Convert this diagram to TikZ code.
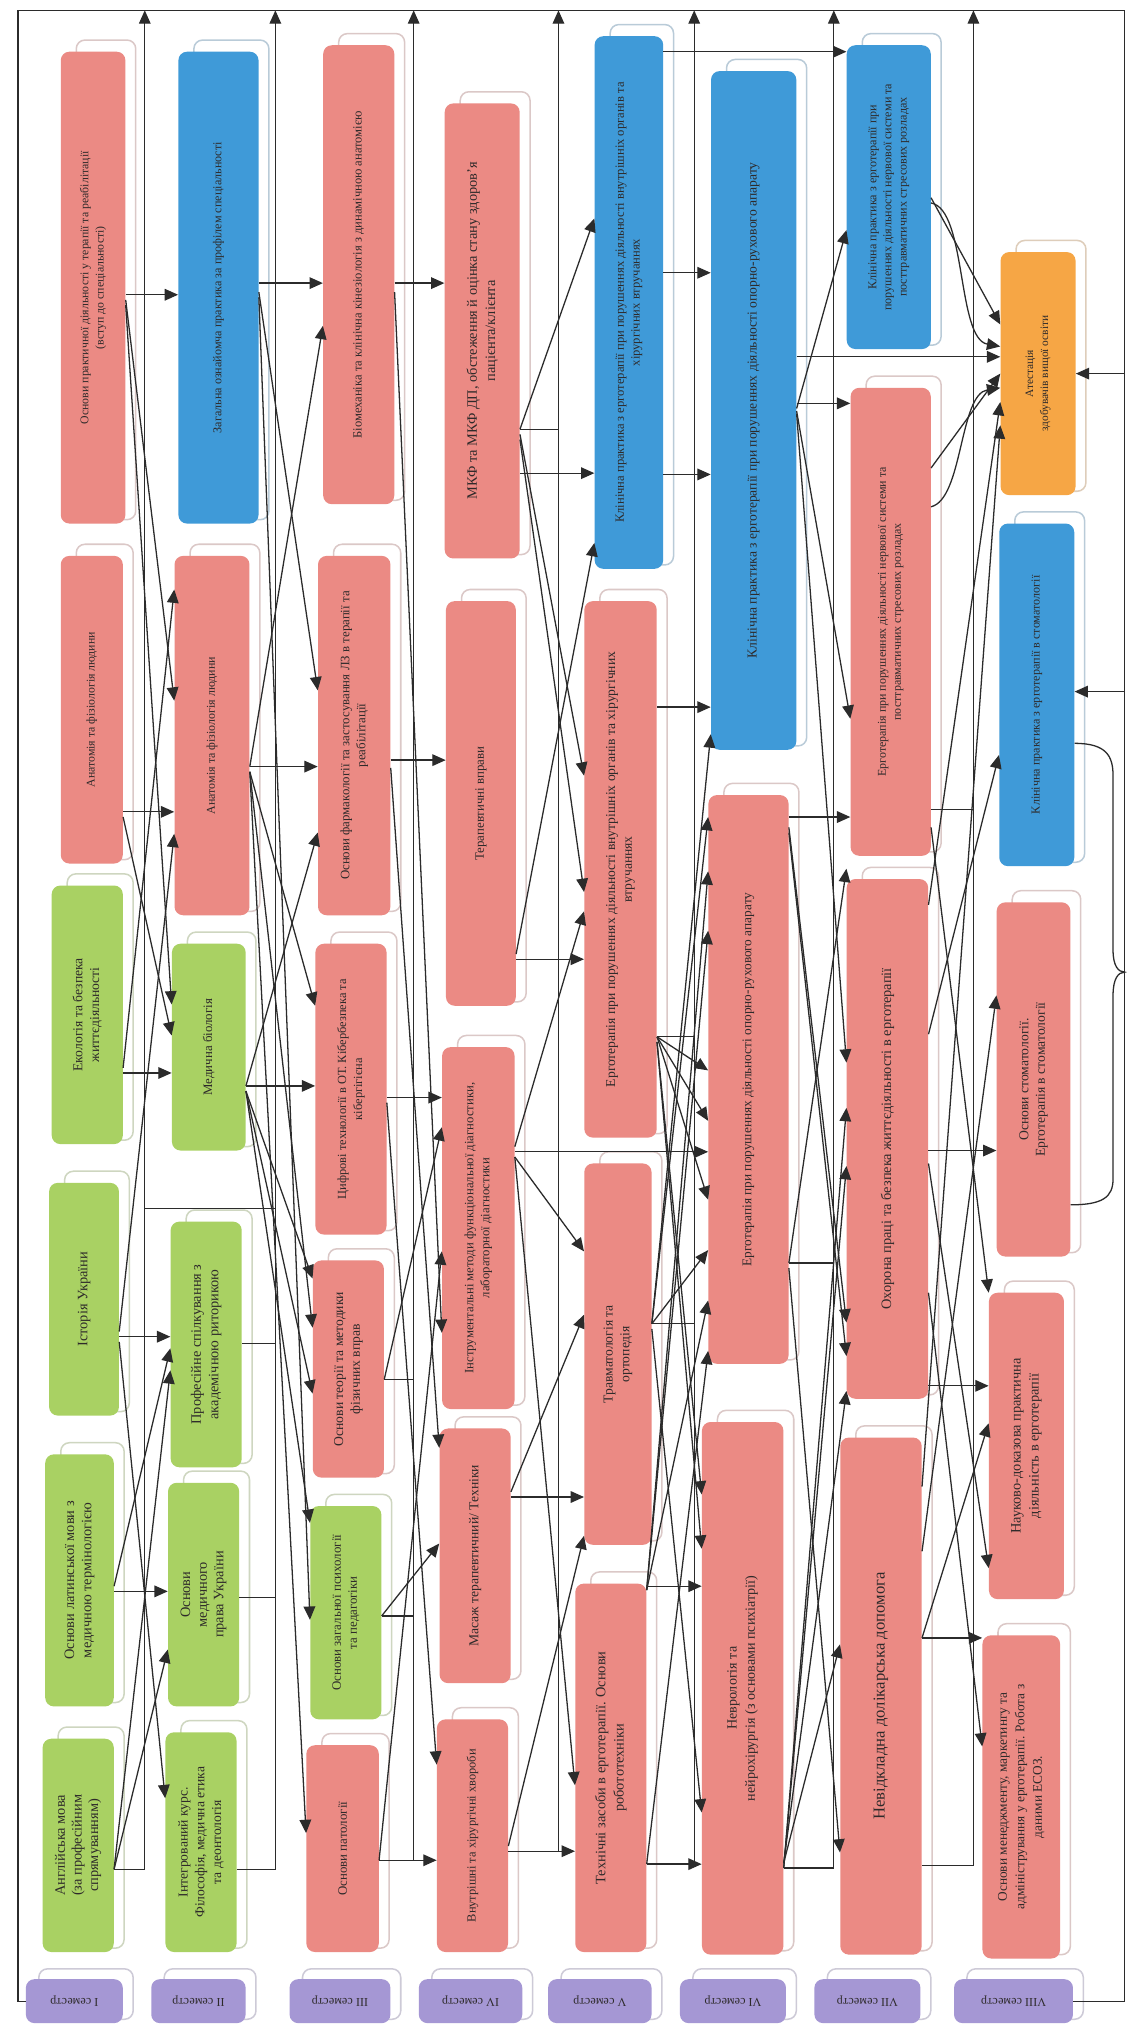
\documentclass[tikz,border=0pt]{standalone}
\usepackage{fontspec}
\setmainfont{Liberation Serif}
\usetikzlibrary{arrows.meta}
\pgfdeclarelayer{bg}
\pgfsetlayers{bg,main}
\definecolor{cred}{HTML}{EB8A84}
\definecolor{cblue}{HTML}{3F9AD8}
\definecolor{cgreen}{HTML}{A9D163}
\definecolor{corange}{HTML}{F6A645}
\definecolor{cpurple}{HTML}{A597D4}
\definecolor{cline}{HTML}{2B2B2B}
\definecolor{ctext}{HTML}{2E2A2A}
\tikzset{
 boxs/.style={rounded corners=2mm, inner sep=0pt, draw=none},
 frm/.style={rounded corners=2mm, fill=white, draw=#1!45!gray!45, line width=1pt},
 lbl/.style={rotate=90, align=center, text=ctext, inner sep=0pt},
 semlbl/.style={rotate=180, align=center, text=ctext, inner sep=0pt},
 ln/.style={draw=cline, line width=0.85pt},
 arr/.style={ln, -{Triangle[length=3.1mm,width=2.7mm]}},
}
\newcommand\fs[2]{\fontsize{#1}{#2}\selectfont}
\newcommand\bx[8]{%
 \path[frm=#6] ({#2+12},{#4-9}) rectangle ({#3+8},{#5-3});
 \node[boxs, fill=#6, minimum width={(#3-#2)*0.3mm}, minimum height={(#5-#4)*0.3mm}] (#1) at ({(#2+#3)/2},{(#4+#5)/2}) {};
 \node[lbl, font=#7] (#1l) at (#1.center) {#8};
}
\newcommand\sm[4]{%
 \path[frm=cpurple] ({#2+10},1523) rectangle ({#3+8},1562);
 \node[boxs, fill=cpurple, minimum width={(#3-#2)*0.3mm}, minimum height={34*0.3mm}] (#1) at ({(#2+#3)/2},1548) {};
 \node[semlbl, font=\fs{8}{10}] (#1l) at (#1.center) {#4};
}
\newcommand\cn[4]{\draw[arr] (#1.east |- 0,#2) -- (#3.west |- 0,#4);}
\begin{document}
\begin{tikzpicture}[x=0.3mm,y=-0.3mm]
\fill[white] (0,0) rectangle (872,1568);
\useasboundingbox (0,0) rectangle (872,1568);

% ---------- column I
\bx{I1}{47}{97}{40}{405}{cred}{\fs{7.8}{10}}{Основи практичної діяльності у терапії та реабілітації\\(вступ до спеціальності)}
\bx{I2}{47}{95}{430}{668}{cred}{\fs{7.8}{10}}{Анатомія та фізіологія людини}
\bx{I3}{40}{95}{685}{885}{cgreen}{\fs{9}{11}}{Екологія та безпека\\життєдіяльності}
\bx{I4}{38}{92}{915}{1095}{cgreen}{\fs{9.5}{11.5}}{Історія України}
\bx{I5}{35}{88}{1125}{1320}{cgreen}{\fs{9.5}{11.5}}{Основи латинської мови з\\медичною термінологією}
\bx{I6}{33}{88}{1345}{1510}{cgreen}{\fs{9.5}{11}}{Англійська мова\\(за професійним\\спрямуванням)}
% ---------- column II
\bx{II1}{138}{200}{40}{405}{cblue}{\fs{8}{10}}{Загальна ознайомча практика за профілем спеціальності}
\bx{II2}{135}{193}{430}{708}{cred}{\fs{7.9}{10}}{Анатомія та фізіологія людини}
\bx{II3}{133}{190}{730}{890}{cgreen}{\fs{8.5}{10.5}}{Медична біологія}
\bx{II4}{132}{187}{945}{1135}{cgreen}{\fs{9.5}{11.5}}{Професійне спілкування з\\академічною риторикою}
\bx{II5}{130}{185}{1147}{1320}{cgreen}{\fs{9.5}{11}}{Основи\\медичного\\права України}
\bx{II6}{128}{183}{1340}{1510}{cgreen}{\fs{9}{11}}{Інтегрований курс.\\Філософія, медична етика\\та деонтологія}
% ---------- column III
\bx{III1}{250}{305}{35}{390}{cred}{\fs{8.3}{10.5}}{Біомеханіка та клінічна кінезіологія з динамічною анатомією}
\bx{III2}{246}{302}{430}{708}{cred}{\fs{8.5}{10.5}}{Основи фармакології та застосування ЛЗ в терапії та\\реабілітації}
\bx{III3}{244}{299}{730}{955}{cred}{\fs{8.2}{10.5}}{Цифрові технології в ОТ. Кібербезпека та\\кібергігієна}
\bx{III4}{242}{297}{975}{1143}{cred}{\fs{9}{11}}{Основи теорії та методики\\фізичних вправ}
\bx{III5}{240}{295}{1165}{1330}{cgreen}{\fs{8.5}{10.5}}{Основи загальної психології\\та педагогіки}
\bx{III6}{237}{293}{1350}{1510}{cred}{\fs{8.5}{10.5}}{Основи патології}
% ---------- column IV
\bx{IV1}{344}{402}{80}{432}{cred}{\fs{9.5}{12}}{МКФ та МКФ ДП, обстеження й оцінка стану здоров’я\\пацієнта/клієнта}
\bx{IV2}{345}{399}{465}{778}{cred}{\fs{8.5}{10.5}}{Терапевтичні вправи}
\bx{IV3}{342}{398}{810}{1090}{cred}{\fs{8.4}{10.5}}{Інструментальні методи функціональної діагностики,\\лабораторної діагностики}
\bx{IV4}{340}{395}{1105}{1302}{cred}{\fs{9}{11}}{Масаж терапевтичний/ Техніки}
\bx{IV5}{338}{393}{1330}{1510}{cred}{\fs{8.2}{10.5}}{Внутрішні та хірургічні хвороби}
% ---------- column V
\bx{V1}{460}{513}{28}{440}{cblue}{\fs{8.3}{10.5}}{Клінічна практика з ерготерапії при порушеннях діяльності внутрішніх органів та\\хірургічних втручаннях}
\bx{V2}{452}{508}{465}{880}{cred}{\fs{9}{11}}{Ерготерапія при порушеннях діяльності внутрішніх органів та хірургічних\\втручаннях}
\bx{V3}{452}{504}{900}{1195}{cred}{\fs{9}{11}}{Травматологія та\\ортопедія}
\bx{V4}{445}{500}{1225}{1510}{cred}{\fs{9.5}{12}}{Технічні засоби в ерготерапії. Основи\\робототехніки}
% ---------- column VI
\bx{VI1}{550}{616}{55}{580}{cblue}{\fs{9}{11}}{Клінічна практика з ерготерапії при порушеннях діяльності опорно-рухового апарату}
\bx{VI2}{548}{610}{615}{1055}{cred}{\fs{8.8}{11}}{Ерготерапія при порушеннях діяльності опорно-рухового апарату}
\bx{VI3}{543}{606}{1100}{1512}{cred}{\fs{9.3}{12}}{Неврологія та\\нейрохірургія (з основами психіатрії)}
% ---------- column VII
\bx{VII1}{655}{720}{35}{270}{cblue}{\fs{8}{10}}{Клінічна практика з ерготерапії при\\порушеннях діяльності нервової системи та\\посттравматичних стресових розладах}
\bx{VII2}{658}{720}{300}{662}{cred}{\fs{7.9}{10}}{Ерготерапія при порушеннях діяльності нервової системи та\\посттравматичних стресових розладах}
\bx{VII3}{655}{718}{680}{1082}{cred}{\fs{9.5}{12}}{Охорона праці та безпека життєдіяльності в ерготерапії}
\bx{VII4}{650}{713}{1112}{1512}{cred}{\fs{11}{13}}{Невідкладна долікарська допомога}
% ---------- column VIII
\bx{VIII1}{774}{832}{195}{383}{corange}{\fs{7.5}{10}}{Атестація\\здобувачів вищої освіти}
\bx{VIII2}{773}{831}{405}{670}{cblue}{\fs{8}{10}}{Клінічна практика з ерготерапії в стоматології}
\bx{VIII3}{771}{828}{698}{972}{cred}{\fs{9}{11}}{Основи стоматології.\\Ерготерапія в стоматології}
\bx{VIII4}{765}{823}{1000}{1237}{cred}{\fs{9.5}{12}}{Науково-доказова практична\\діяльність в ерготерапії}
\bx{VIII5}{760}{820}{1265}{1515}{cred}{\fs{8.8}{11.5}}{Основи менеджменту, маркетингу та\\адміністрування у ерготерапії. Робота з\\даними ЕСОЗ.}

% ---------- semesters
\sm{S1}{20}{95}{I семестр}
\sm{S2}{117}{190}{II семестр}
\sm{S3}{224}{302}{III семестр}
\sm{S4}{324}{404}{IV семестр}
\sm{S5}{424}{504}{V семестр}
\sm{S6}{526}{608}{VI семестр}
\sm{S7}{630}{712}{VII семестр}
\sm{S8}{738}{830}{VIII семестр}
\begin{pgfonlayer}{bg}
\draw[ln] (S1.east) -- (S2.west);
\draw[ln] (S2.east) -- (S3.west);
\draw[ln] (S3.east) -- (S4.west);
\draw[ln] (S4.east) -- (S5.west);
\draw[ln] (S5.east) -- (S6.west);
\draw[ln] (S6.east) -- (S7.west);
\draw[ln] (S7.east) -- (S8.west);
\end{pgfonlayer}

% ---------- frame and buses
\coordinate (tl) at (14,8);
\coordinate (tr) at (870,8);
\coordinate (t1) at (112,8);
\coordinate (t2) at (213,8);
\coordinate (t3) at (320,8);
\coordinate (t4) at (432,8);
\coordinate (t5) at (537,8);
\coordinate (t6) at (645,8);
\coordinate (t7) at (753,8);
\draw[ln] (S1.west) -| (tl) -- (tr) |- (S8.east);
\draw[arr] (tr |- 0,289) -- (VIII1.east |- 0,289);
\draw[arr] (tr |- 0,535) -- (VIII2.east |- 0,535);
\draw[ln] (VIII2.east |- 0,575) .. controls (856,575) and (861,585) .. (861,600) -- (861,735) .. controls (861,747) and (865,752) .. (tr |- 0,752) .. controls (865,752) and (861,757) .. (861,770) -- (861,912) .. controls (861,926) and (853,932) .. (VIII3.east |- 0,932);

\draw[arr] (I6.east |- 0,1446) -| (t1);
\draw[arr] (II6.east |- 0,1446) -| (t2);
\draw[ln] (II4.east |- 0,1039) -- (t2 |- 0,1039);
\draw[ln] (II5.east |- 0,1236) -- (t2 |- 0,1236);
\draw[ln] (t1 |- 0,935) -- (t2 |- 0,935);
\draw[arr] (III6.east |- 0,1439) -| (t3);
\draw[ln] (III4.east |- 0,1067) -- (t3 |- 0,1067);
\draw[ln] (III5.east |- 0,1250) -- (t3 |- 0,1250);
\draw[arr] (IV5.east |- 0,1432) -| (t4);
\draw[ln] (IV1.east |- 0,332) -- (t4 |- 0,332);
\draw[arr] (V4.east |- 0,1442) -| (t5);
\draw[ln] (V2.east |- 0,802) -- (t5 |- 0,802);
\draw[ln] (V3.east |- 0,1024) -- (t5 |- 0,1024);
\draw[arr] (VI3.east |- 0,1445) -| (t6);
\draw[ln] (VI2.east |- 0,977) -- (t6 |- 0,977);
\draw[arr] (VII4.east |- 0,1443) -| (t7);
\draw[ln] (VII2.east |- 0,626) -- (t7 |- 0,626);

% ---------- I -> II
\cn{I1}{228}{II1}{228}
\cn{I1}{232}{II2}{542}
\cn{I1}{236}{II3}{777}
\cn{I2}{628}{II2}{628}
\cn{I2}{632}{II3}{801}
\cn{I3}{830}{II3}{830}
\cn{I3}{826}{II2}{456}
\cn{I4}{1030}{II2}{645}
\cn{I4}{1034}{II4}{1034}
\cn{I4}{1038}{II6}{1391}
\cn{I5}{1231}{II5}{1231}
\cn{I5}{1227}{II4}{1043}
\cn{I6}{1446}{II4}{1060}
\cn{I6}{1446}{II5}{1276}
% ---------- II -> III
\cn{II1}{219}{III1}{219}
\cn{II1}{226}{III2}{534}
\cn{II1}{230}{III5}{1253}
\cn{II2}{593}{III1}{252}
\cn{II2}{593}{III2}{593}
\cn{II2}{597}{III3}{778}
\cn{II2}{597}{III4}{1027}
\cn{II2}{597}{III6}{1418}
\cn{II3}{840}{III2}{644}
\cn{II3}{840}{III3}{840}
\cn{II3}{844}{III4}{989}
\cn{II3}{844}{III4}{1078}
\cn{II3}{844}{III5}{1178}
% ---------- III -> IV
\cn{III1}{219}{IV1}{219}
\cn{III2}{588}{IV2}{588}
\cn{III3}{849}{IV3}{849}
\cn{III1}{226}{IV3}{1031}
\cn{III4}{1067}{IV3}{872}
\cn{III6}{1439}{IV3}{968}
\cn{III2}{594}{IV4}{1120}
\cn{III5}{1250}{IV4}{1194}
\cn{III3}{853}{IV5}{1365}
\cn{III6}{1439}{IV5}{1439}
% ---------- IV -> V
\cn{IV1}{332}{V1}{169}
\cn{IV1}{366}{V1}{366}
\cn{IV1}{336}{V2}{600}
\cn{IV1}{340}{V2}{690}
\cn{IV2}{742}{V2}{742}
\cn{IV2}{738}{V1}{420}
\cn{IV3}{891}{VI2}{891}
\cn{IV3}{895}{V3}{968}
\cn{IV3}{887}{V2}{705}
\cn{IV3}{895}{V4}{1381}
\cn{IV4}{1158}{V3}{1158}
\cn{IV4}{1154}{V3}{1017}
\cn{IV5}{1428}{V3}{1188}
\cn{IV5}{1432}{V4}{1432}
% ---------- V -> VI
\cn{V1}{40}{VII1}{40}
\cn{V1}{211}{VI1}{211}
\cn{V1}{367}{VI1}{367}
\cn{V2}{547}{VI1}{547}
\cn{V3}{1024}{VI1}{568}
\cn{V3}{1024}{VI2}{632}
\cn{V4}{1230}{VI2}{674}
\cn{V4}{1230}{VI2}{720}
\cn{V2}{802}{VI2}{828}
\cn{V2}{802}{VI2}{867}
\cn{V2}{802}{VI2}{928}
\cn{V3}{1024}{VI2}{967}
\cn{V4}{1230}{VI2}{1006}
\cn{V4}{1442}{VI2}{1045}
\cn{V2}{806}{VI3}{1156}
\cn{V2}{806}{VI3}{1198}
\cn{V3}{1028}{VI3}{1402}
\cn{V4}{1227}{VI3}{1227}
\cn{V4}{1442}{VI3}{1442}
% ---------- VI -> VII
\cn{VI1}{312}{VII2}{312}
\cn{VI1}{316}{VII1}{178}
\cn{VI1}{318}{VII2}{556}
\cn{VI1}{276}{VIII1}{276}
\cn{VI2}{632}{VII2}{632}
\cn{VI2}{977}{VII3}{672}
\cn{VI1}{320}{VII3}{822}
\cn{VI3}{1445}{VII3}{857}
\cn{VI3}{1445}{VII3}{902}
\cn{VI2}{640}{VII3}{1023}
\cn{VI2}{644}{VII3}{1049}
\cn{VI3}{1441}{VII3}{1076}
\cn{VI3}{1441}{VII4}{1272}
\cn{VI2}{981}{VII4}{1433}
% ---------- VII -> VIII
\cn{VII1}{153}{VIII1}{251}
\draw[arr] (VII1.east |- 0,157) .. controls (748,162) and (740,262) .. (VIII1.west |- 0,268);
\cn{VII2}{362}{VIII1}{289}
\draw[arr] (VII2.east |- 0,392) .. controls (745,386) and (742,305) .. (VIII1.west |- 0,300);
\cn{VII3}{700}{VIII1}{311}
\cn{VII4}{1150}{VIII1}{329}
\cn{VII3}{800}{VIII2}{584}
\cn{VII3}{890}{VIII3}{890}
\cn{VII4}{1200}{VIII3}{770}
\cn{VII2}{640}{VIII4}{1000}
\cn{VII3}{1072}{VIII4}{1072}
\cn{VII4}{1267}{VIII4}{1101}
\cn{VII3}{900}{VIII4}{1213}
\cn{VII4}{1267}{VIII5}{1267}
\cn{VII3}{1000}{VIII5}{1351}
\end{tikzpicture}
\end{document}
